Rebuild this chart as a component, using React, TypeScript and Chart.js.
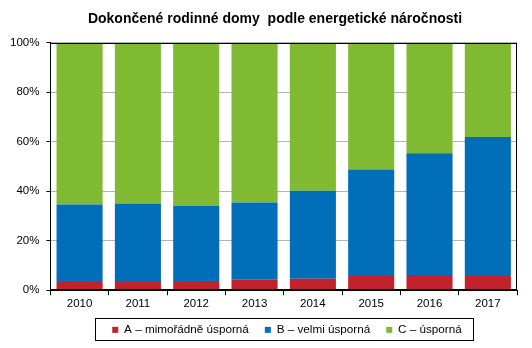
import React, { useEffect, useRef } from "react";
import { Chart, registerables } from "chart.js";

Chart.register(...registerables);

const years = ["2010", "2011", "2012", "2013", "2014", "2015", "2016", "2017"];
const seriesA = [3.7, 3.3, 3.7, 4.2, 4.6, 5.7, 6.1, 5.7];
const seriesB = [30.9, 31.7, 30.4, 31.2, 35.6, 43.1, 49.3, 56.2];
const seriesC = [65.4, 65.0, 65.9, 64.6, 59.8, 51.2, 44.6, 38.1];
const seriesNames = ["A – mimořádně úsporná", "B – velmi úsporná", "C – úsporná"];
const titleText = "Dokončené rodinné domy  podle energetické náročnosti";

const FONT = "'Liberation Sans', Arial, sans-serif";

const borderPlugin = {
  id: "borderPlugin",
  afterLayout(chart: any) {
    const lg = chart.legend;
    if (lg) {
      lg.top -= 5;
      lg.bottom -= 5;
      lg.left += 27;
      lg.right += 27;
    }
    const tt = chart.titleBlock;
    if (tt) {
      tt.left += 15;
      tt.right += 15;
    }
  },
  afterDraw(chart: any) {
    const ctx = chart.ctx;
    const a = chart.chartArea;
    ctx.save();
    ctx.strokeStyle = "#000";
    ctx.lineWidth = 1;
    const l = Math.round(a.left) + 0.5;
    const t = Math.round(a.top) + 0.5;
    const r = Math.round(a.right) - 0.5;
    const b = Math.round(a.bottom) - 0.5;
    ctx.strokeRect(l, t, r - l, b - t);
    const lg = chart.legend;
    if (lg && lg.legendHitBoxes && lg.legendHitBoxes.length) {
      let minX = Infinity, maxX = -Infinity, minY = Infinity, maxY = -Infinity;
      lg.legendHitBoxes.forEach((h: any) => {
        minX = Math.min(minX, h.left);
        maxX = Math.max(maxX, h.left + h.width);
        minY = Math.min(minY, h.top);
        maxY = Math.max(maxY, h.top + h.height);
      });
      const x0 = Math.round(minX - 17) + 0.5;
      const x1 = Math.round(maxX + 11) + 0.5;
      const y0 = Math.round(minY - 6) + 0.5;
      const y1 = Math.round(maxY + 4) + 0.5;
      ctx.strokeRect(x0, y0, x1 - x0, y1 - y0);
    }
    ctx.restore();
  },
};

export default function App() {
  const ref = useRef<HTMLCanvasElement | null>(null);
  useEffect(() => {
    document.body.style.margin = "0";
    const canvas = ref.current;
    if (!canvas) return;
    const chart = new Chart(canvas, {
      type: "bar",
      data: {
        labels: years,
        datasets: [
          { label: seriesNames[0], data: seriesA, backgroundColor: "#C1222B" },
          { label: seriesNames[1], data: seriesB, backgroundColor: "#006EB9" },
          { label: seriesNames[2], data: seriesC, backgroundColor: "#80B932" },
        ],
      },
      options: {
        responsive: false,
        animation: false,
        devicePixelRatio: 1,
        layout: { padding: { left: 3, right: 15, top: 0, bottom: 0 } },
        datasets: { bar: { categoryPercentage: 1, barPercentage: 0.79 } } as any,
        plugins: {
          title: {
            display: true,
            text: titleText,
            color: "#000",
            font: { family: FONT, size: 14, weight: "bold" },
            padding: { top: 11, bottom: 15 },
          },
          legend: {
            position: "bottom",
            maxHeight: 35,
            labels: {
              color: "#000",
              font: { family: FONT, size: 11.7 },
              boxWidth: 6,
              boxHeight: 6,
              padding: 16,
            },
          },
          tooltip: { enabled: false },
        },
        scales: {
          x: {
            stacked: true,
            grid: {
              display: true,
              drawOnChartArea: false,
              offset: true,
              tickLength: 5,
              tickColor: "#000",
              color: "#000",
            },
            border: { color: "#000" },
            ticks: { color: "#000", font: { family: FONT, size: 11.5 }, padding: 2 },
          },
          y: {
            stacked: true,
            min: 0,
            max: 100,
            grid: { color: "#B4B4B4", tickLength: 4, tickColor: "#000" },
            border: { color: "#000" },
            ticks: {
              stepSize: 20,
              color: "#000",
              padding: 7,
              font: { family: FONT, size: 11.5 },
              callback: (v: any) => v + "%",
            },
          },
        },
      },
      plugins: [borderPlugin],
    });
    return () => chart.destroy();
  }, []);
  return (
    <div style={{ width: 532, height: 348, background: "#fff" }}>
      <canvas ref={ref} width={532} height={348} style={{ display: "block" }} />
    </div>
  );
}
